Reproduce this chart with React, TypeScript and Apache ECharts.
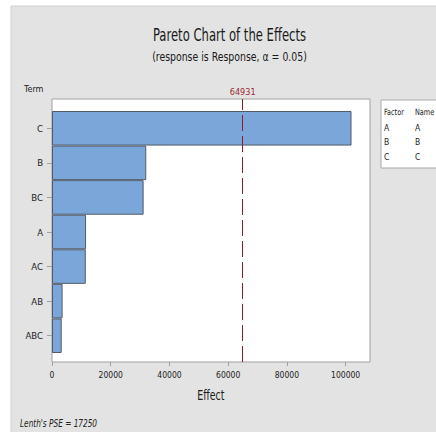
import React, { useEffect, useRef } from "react";
import * as echarts from "echarts";

// Pareto chart of standardized effects
const terms = ["C", "B", "BC", "A", "AC", "AB", "ABC"];
const effects = [102000, 32100, 31200, 11600, 11500, 3600, 3300];
const referenceEffect = 64931;
const effectMax = 108300;
const effectInterval = 20000;
const factors = ["A", "B", "C"];
const factorNames = ["A", "B", "C"];
const lenthPSE = 17250;

const NARROW = "'DejaVu Sans Condensed', 'Liberation Sans Narrow', 'Liberation Sans', sans-serif";

export default function App() {
  const ref = useRef<HTMLDivElement>(null);

  useEffect(() => {
    document.body.style.margin = "0";
    const chart = echarts.init(ref.current!, null, { renderer: "svg" });

    const plot = { left: 52, top: 99, width: 318, height: 263 };
    const bars = { left: 52, top: 111, width: 318, height: 242 };

    const legendRows: any[] = [
      { type: "text", x: 384, y: 108, scaleX: 0.85, style: { text: "Factor", font: `8.5px ${NARROW}`, fill: "#222" } },
      { type: "text", x: 415, y: 108, scaleX: 0.85, style: { text: "Name", font: `8.5px ${NARROW}`, fill: "#222" } },
    ];
    factors.forEach((f, i) => {
      legendRows.push({ type: "text", x: 384, y: 123 + i * 14.5, style: { text: f, font: `8.5px ${NARROW}`, fill: "#222" } });
      legendRows.push({ type: "text", x: 415, y: 123 + i * 14.5, style: { text: factorNames[i], font: `8.5px ${NARROW}`, fill: "#222" } });
    });

    chart.setOption({
      animation: false,
      backgroundColor: "#ffffff",
      graphic: [
        { type: "rect", z: -10, shape: { x: 11, y: 6, width: 440, height: 440 }, style: { fill: "#e3e3e3", stroke: "#d0d0d0", lineWidth: 1 } },
        { type: "text", x: 229.5, y: 27, scaleX: 0.76, style: { text: "Pareto Chart of the Effects", font: `17px ${NARROW}`, fill: "#1a1a1a", textAlign: "center" } },
        { type: "text", x: 229.5, y: 50, scaleX: 0.8, style: { text: "(response is Response, \u03b1 = 0.05)", font: `13px ${NARROW}`, fill: "#1a1a1a", textAlign: "center" } },
        { type: "text", x: 24, y: 84, style: { text: "Term", font: `9px ${NARROW}`, fill: "#222" } },
        { type: "text", x: 210.8, y: 388, scaleX: 0.75, style: { text: "Effect", font: `14px ${NARROW}`, fill: "#1a1a1a", textAlign: "center" } },
        { type: "text", x: 20, y: 418, scaleX: 0.78, style: { text: `Lenth's PSE = ${lenthPSE}`, font: `italic 10.5px ${NARROW}`, fill: "#222" } },
        { type: "rect", shape: { x: 381, y: 100, width: 70, height: 68 }, style: { fill: "#ffffff", stroke: "#aaaaaa", lineWidth: 1 } },
        ...legendRows,
      ],
      grid: [
        { ...plot, show: true, backgroundColor: "#ffffff", borderColor: "#a0a0a0", borderWidth: 1 },
        { ...bars },
      ],
      xAxis: [
        {
          gridIndex: 0,
          type: "value",
          min: 0,
          max: effectMax,
          interval: effectInterval,
          axisLine: { show: false },
          axisTick: { show: true, length: 4, lineStyle: { color: "#a0a0a0" } },
          axisLabel: { showMaxLabel: false, margin: 8, fontFamily: NARROW, fontSize: 8.5, color: "#222", formatter: (v: number) => String(v) },
          splitLine: { show: false },
        },
        { gridIndex: 1, type: "value", min: 0, max: effectMax, show: false },
      ],
      yAxis: [
        { gridIndex: 0, type: "category", data: terms, show: false },
        {
          gridIndex: 1,
          type: "category",
          inverse: true,
          data: terms,
          axisLine: { show: false },
          axisTick: { show: true, length: 5, alignWithLabel: true, lineStyle: { color: "#a0a0a0" } },
          axisLabel: { margin: 9, fontFamily: NARROW, fontSize: 9.5, color: "#222" },
        },
      ],
      series: [
        {
          type: "line",
          xAxisIndex: 0,
          yAxisIndex: 0,
          data: [],
          z: 1,
          markLine: {
            silent: true,
            symbol: "none",
            lineStyle: { color: "#8e1c26", type: [16, 5], width: 1 },
            label: { show: true, position: "end", distance: 3, formatter: String(referenceEffect), color: "#9a2a32", fontFamily: NARROW, fontSize: 9 },
            data: [{ xAxis: referenceEffect }],
          },
        },
        {
          type: "bar",
          xAxisIndex: 1,
          yAxisIndex: 1,
          z: 3,
          data: effects,
          barCategoryGap: "0%",
          itemStyle: { color: "#7ba6da", borderColor: "#525a66", borderWidth: 1 },
        },
      ],
    });

    return () => chart.dispose();
  }, []);

  return <div ref={ref} style={{ width: 436, height: 432 }} />;
}
